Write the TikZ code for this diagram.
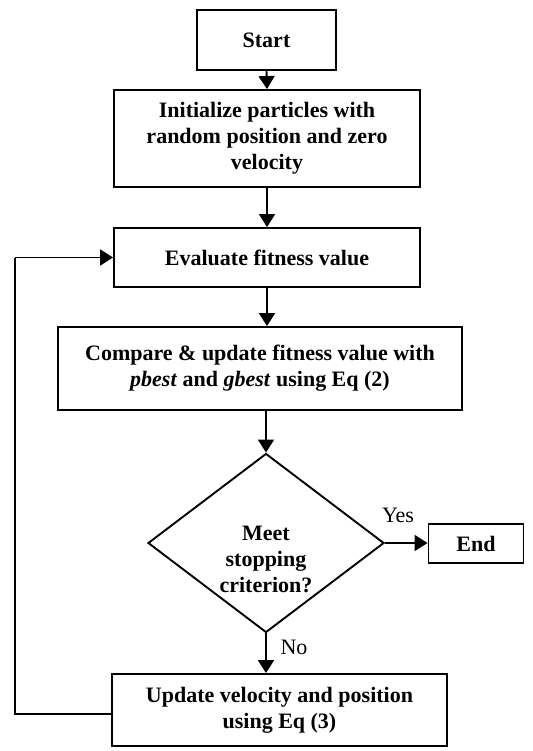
\documentclass[tikz,border=0pt]{standalone}
\usepackage{fontspec}
\setmainfont{Liberation Serif}
\usetikzlibrary{shapes.geometric,arrows.meta}
\begin{document}
\begin{tikzpicture}[x=1pt,y=-1pt,
  every node/.style={font=\fontsize{22}{26}\selectfont},
  box/.style={draw,line width=1.9pt,rectangle,inner sep=0pt,align=center,font=\fontsize{22}{26}\selectfont\bfseries},
  dia/.style={draw,line width=1.9pt,diamond,inner sep=0pt,minimum width=236pt,minimum height=179pt},
  arr/.style={line width=1.9pt,-{Triangle[length=13pt,width=16pt]}},
  lab/.style={font=\fontsize{22}{26}\selectfont}]
\useasboundingbox (0,0) rectangle (532,751);
\node[box,minimum width=139pt,minimum height=60pt] (start) at (266.5,40) {Start};
\node[box,minimum width=306pt,minimum height=97pt] (init) at (267,138.5) {Initialize particles with\\random position and zero\\velocity};
\node[box,minimum width=306pt,minimum height=59pt] (eval) at (267,257.5) {Evaluate fitness value};
\node[box,minimum width=404pt,minimum height=83pt] (comp) at (260,368.5) {Compare \& update fitness value with\\\textit{pbest} and \textit{gbest} using Eq (2)};
\node[dia] (dec) at (266,543) {};
\node[align=center,font=\fontsize{22}{26}\selectfont\bfseries] (dectext) at (266,559) {Meet\\stopping\\criterion?};
\node[box,minimum width=95pt,minimum height=39pt] (end) at (476,543.5) {End};
\node[box,minimum width=335pt,minimum height=72pt] (upd) at (279.5,710) {Update velocity and position\\using Eq (3)};
\node[lab] (yes) at (398,515) {Yes};
\node[lab] (no) at (294,647) {No};
\coordinate (c1) at (15,714);
\coordinate (c2) at (15,257.5);
\draw[arr] (start.south) -- (init.north);
\draw[arr] (init.south) -- (eval.north);
\draw[arr] (eval.south) -- (eval.south |- comp.north);
\draw[arr] (comp.south -| dec.north) -- (dec.north);
\draw[arr] (dec.east) -- (end.west |- dec.east);
\draw[arr] (dec.south) -- (dec.south |- upd.north);
\draw[line width=1.9pt] (upd.west |- c1) -- (c1) -- (c2);
\draw[arr] (c2) -- (eval.west);
\end{tikzpicture}
\end{document}
